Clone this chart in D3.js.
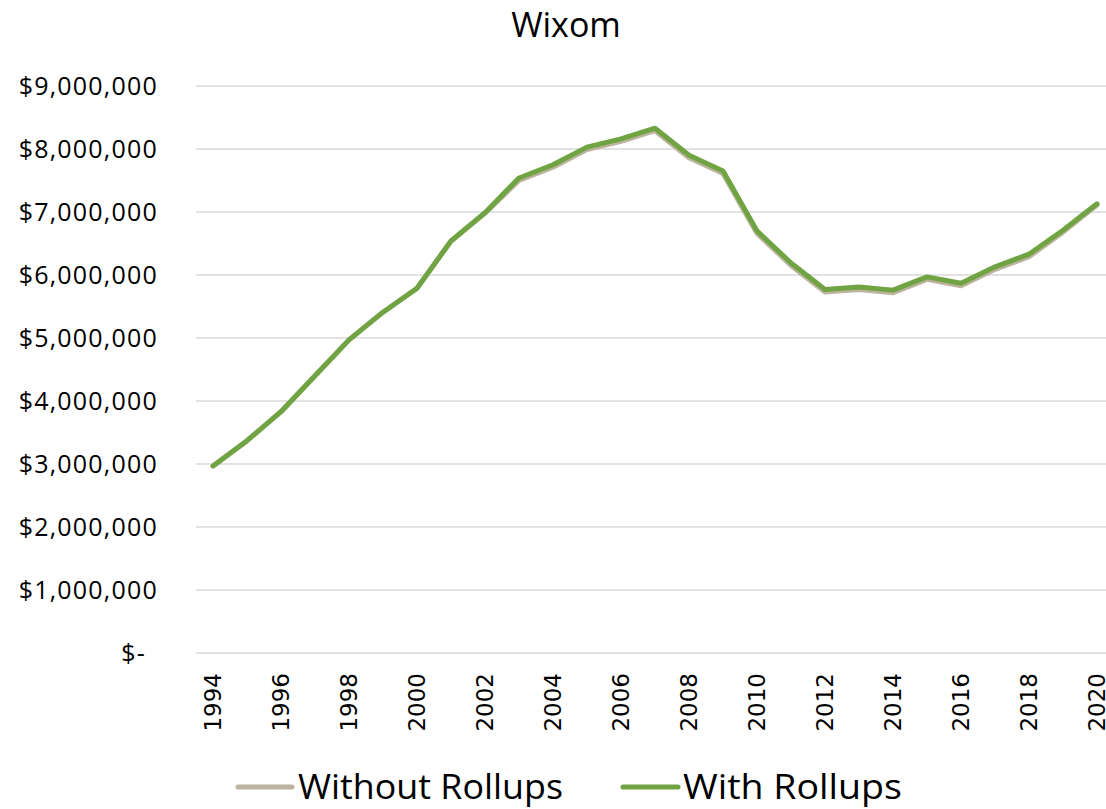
<!DOCTYPE html>
<html>
<head>
<meta charset="utf-8">
<script src="https://cdn.jsdelivr.net/npm/d3@7"></script>
<style>
  body { margin: 0; background: #fff; }
  svg { display: block; }
</style>
</head>
<body>
<svg id="chart"></svg>
<script>
// данные графика
const years = d3.range(1994, 2021).map(String);
const withRollups = [
  2970000, 3370000, 3830000, 4400000, 4970000, 5410000, 5790000, 6540000, 6990000,
  7540000, 7750000, 8030000, 8160000, 8330000, 7900000, 7650000, 6700000,
  6190000, 5770000, 5810000, 5760000, 5970000, 5870000, 6130000, 6330000, 6710000, 7130000
];
const withoutRollups = [
  2970000, 3370000, 3830000, 4400000, 4970000, 5410000, 5790000, 6540000, 6980000,
  7500000, 7710000, 7990000, 8120000, 8290000, 7860000, 7610000, 6660000,
  6150000, 5730000, 5770000, 5720000, 5930000, 5830000, 6090000, 6290000, 6680000, 7110000
];
const yTicks = [0, 1000000, 2000000, 3000000, 4000000, 5000000, 6000000, 7000000, 8000000, 9000000];
const xTickLabels = years.filter((d, i) => i % 2 === 0);
const seriesNames = ["Without Rollups", "With Rollups"];
const seriesColors = ["#bcb49f", "#70a442"];

const width = 1106, height = 809;
const area = { left: 196, right: 1114, top: 86, bottom: 653 };

const svg = d3.select("#chart").attr("width", width).attr("height", height);

const scX = d3.scaleBand().domain(years).range([area.left, area.right]).padding(0);
const scY = d3.scaleLinear().domain([0, 9000000]).range([area.bottom, area.top]);
const cx = d => scX(d) + scX.bandwidth() / 2;

// сетка
svg.append("g")
  .selectAll("line")
  .data(yTicks)
  .join("line")
  .attr("x1", area.left).attr("x2", area.right)
  .attr("y1", d => scY(d)).attr("y2", d => scY(d))
  .attr("stroke", "#d9d9d9")
  .attr("stroke-width", 1.5);

// подписи оси OY
const fmt = d3.format(",");
svg.append("g")
  .selectAll("text")
  .data(yTicks)
  .join("text")
  .attr("x", d => d === 0 ? 146 : 158)
  .attr("y", d => scY(d))
  .attr("dy", "0.35em")
  .attr("text-anchor", "end")
  .attr("font-family", "'Open Sans', sans-serif")
  .attr("font-size", 25)
  .attr("letter-spacing", 1.2)
  .attr("fill", "#000")
  .text(d => d === 0 ? "$-" : "$" + fmt(d));

// подписи оси OX - вертикальные
svg.append("g")
  .selectAll("text")
  .data(xTickLabels)
  .join("text")
  .attr("transform", d => `translate(${cx(d)}, ${area.bottom + 20}) rotate(-90)`)
  .attr("text-anchor", "end")
  .attr("dy", "0.36em")
  .attr("font-family", "'DejaVu Sans', sans-serif")
  .attr("font-size", 23)
  .attr("fill", "#000")
  .text(d => d);

// линии
const line = d3.line().x((d, i) => cx(years[i])).y(d => scY(d));
[withoutRollups, withRollups].forEach((vals, i) => {
  svg.append("path")
    .datum(vals)
    .attr("d", line)
    .attr("fill", "none")
    .attr("stroke", seriesColors[i])
    .attr("stroke-width", 5)
    .attr("stroke-linejoin", "round")
    .attr("stroke-linecap", "round");
});

// заголовок
svg.append("text")
  .attr("x", 566).attr("y", 37)
  .attr("text-anchor", "middle")
  .attr("font-family", "'Open Sans', sans-serif")
  .attr("font-size", 34)
  .attr("fill", "#000")
  .text("Wixom");

// легенда
const legend = [
  { x1: 238, x2: 292, tx: 298, len: 265 },
  { x1: 623, x2: 678, tx: 683, len: 219 }
];
legend.forEach((l, i) => {
  svg.append("line")
    .attr("x1", l.x1).attr("x2", l.x2)
    .attr("y1", 787).attr("y2", 787)
    .attr("stroke", seriesColors[i])
    .attr("stroke-width", 5)
    .attr("stroke-linecap", "round");
  svg.append("text")
    .attr("x", l.tx).attr("y", 799)
    .attr("font-family", "'Open Sans', sans-serif")
    .attr("font-size", 34)
    .attr("textLength", l.len)
    .attr("lengthAdjust", "spacingAndGlyphs")
    .attr("fill", "#000")
    .text(seriesNames[i]);
});
</script>
</body>
</html>
